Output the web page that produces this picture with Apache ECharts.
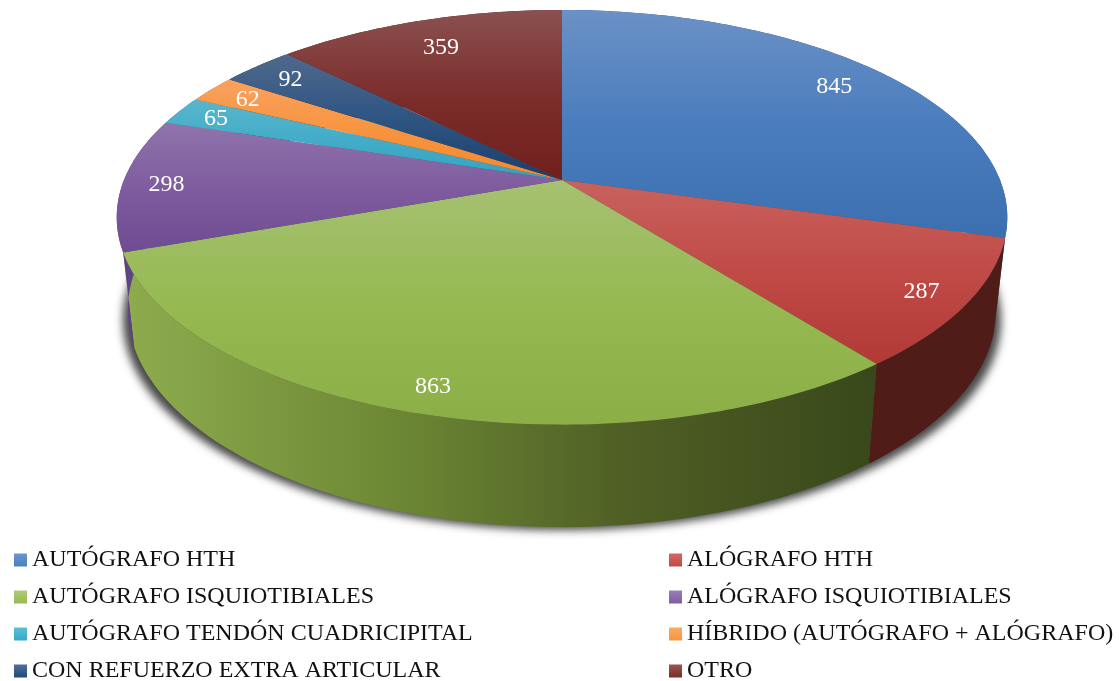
<!DOCTYPE html>
<html lang="es">
<head>
    <meta charset="UTF-8">
    <title>Pie 3D</title>
    <script src="https://cdn.jsdelivr.net/npm/echarts@6/dist/echarts.min.js"></script>
    <style>
        *{
            margin: 0;
            padding: 0;
        }
        #box{
            width: 1120px;
            height: 681px;
        }
    </style>
</head>
<body>
<div id="box"></div>
<script type="text/javascript">
    // data
    const categories = ['AUTÓGRAFO HTH', 'ALÓGRAFO HTH', 'AUTÓGRAFO ISQUIOTIBIALES', 'ALÓGRAFO ISQUIOTIBIALES',
        'AUTÓGRAFO TENDÓN CUADRICIPITAL', 'HÍBRIDO (AUTÓGRAFO + ALÓGRAFO)', 'CON REFUERZO EXTRA ARTICULAR', 'OTRO'];
    const values = [845, 287, 863, 298, 65, 62, 92, 359];

    // top face gradient, top to bottom
    const topColors = [
        ['#6b91c6', '#4a7dbd', '#3b6fb0'],
        ['#c9625e', '#c04a46', '#b13a36'],
        ['#a6c172', '#96b952', '#8bae47'],
        ['#9074ab', '#7f5c9f', '#6f4c92'],
        ['#58b6cd', '#44acc8', '#33a3c0'],
        ['#f9a25e', '#f79440', '#f5882c'],
        ['#50698c', '#2f5583', '#1b3f6d'],
        ['#8a5150', '#7c2e2c', '#701f1c']
    ];
    // side wall gradient, left to right
    const sideColors = [
        ['#2b5283', '#2b5283'],
        ['#501c18', '#4f1c18'],
        ['#8eac4e', '#6f8b36', '#4f5f25', '#39481a'],
        ['#5f4383', '#5f4383'],
        ['#27788d', '#27788d'],
        ['#a8621f', '#a8621f'],
        ['#14304f', '#14304f'],
        ['#4f1c18', '#4f1c18']
    ];
    const legendColors = [
        ['#6b95cf', '#4a7fc0'],
        ['#d56662', '#c24a46'],
        ['#afcb76', '#97ba52'],
        ['#9a7cb8', '#7d5ea0'],
        ['#5cc0d8', '#36a8c6'],
        ['#fdaa62', '#f7953f'],
        ['#4f6f98', '#23497a'],
        ['#9a5552', '#7a2c2a']
    ];
    const labelRadius = [0.85, 0.9, 0.9, 0.9, 0.9, 0.89, 0.88, 0.82];

    const total = values.reduce((a, b) => a + b, 0);
    let running = 0;
    const starts = values.map(v => {
        let s = running;
        running += v;
        return s;
    });

    // perspective of the disc
    const cx = 562, cy = 180, rx = 438, ry = 200.6, persp = 0.18;
    const wall = 91, shrink = 0.975;

    function project(turn, r) {
        let a = turn * Math.PI * 2;
        let c = Math.cos(a), d = 1 + persp * r * c;
        return [rx * r * Math.sin(a) / d, -ry * r * c / d, d];
    }
    function rim(from, to) {
        let pts = [];
        let n = Math.max(2, Math.ceil((to - from) * 360));
        for (let i = 0; i <= n; i++) {
            pts.push(project(from + (to - from) * i / n, 1));
        }
        return pts;
    }
    function vertical(stops) {
        return {
            type: 'linear', x: 0, y: 0, x2: 0, y2: 1,
            colorStops: stops.map((c, i) => ({offset: i / (stops.length - 1), color: c}))
        };
    }
    function horizontal(stops) {
        return {
            type: 'linear', x: 0, y: 0, x2: 1, y2: 0,
            colorStops: stops.map((c, i) => ({offset: i / (stops.length - 1), color: c}))
        };
    }

    let myChart = echarts.init(document.getElementById('box'));

    let series = categories.map((name, idx) => ({
        name: name,
        type: 'custom',
        coordinateSystem: 'none',
        silent: true,
        animation: false,
        itemStyle: {color: vertical(legendColors[idx])},
        data: [[starts[idx], values[idx]]],
        renderItem: function (params, api) {
            let from = api.value(0) / total, size = api.value(1) / total;
            let arc = rim(from, from + size);
            let topFace = [[cx, cy]].concat(arc.map(p => [cx + p[0], cy + p[1]]));
            let lower = arc.map(p => [cx + p[0] * shrink, cy + p[1] + wall * Math.pow(p[2], -0.6)]).reverse();
            let sideFace = arc.map(p => [cx + p[0], cy + p[1]]).concat(lower);
            let mid = project(from + size / 2, labelRadius[idx]);
            return {
                type: 'group',
                children: [{
                    type: 'polygon',
                    z2: 1,
                    shape: {points: sideFace},
                    style: {fill: horizontal(sideColors[idx])}
                }, {
                    type: 'polygon',
                    z2: 2,
                    shape: {points: topFace},
                    style: {fill: vertical(topColors[idx])}
                }, {
                    type: 'text',
                    z2: 3,
                    x: cx + mid[0],
                    y: cy + mid[1] + 1,
                    style: {
                        text: String(api.value(1)),
                        fill: '#fff',
                        font: '24px "Liberation Serif"',
                        align: 'center',
                        verticalAlign: 'middle'
                    }
                }]
            };
        }
    }));

    // soft shadow under the wall, the ellipse itself sits off the canvas
    series.unshift({
        name: 'sombra',
        type: 'custom',
        coordinateSystem: 'none',
        silent: true,
        animation: false,
        data: [[0]],
        renderItem: function () {
            return {
                type: 'ellipse',
                z2: 0,
                shape: {cx: cx - 2000, cy: 320, rx: 439, ry: 210},
                style: {fill: '#333', shadowBlur: 8, shadowOffsetX: 2000, shadowColor: 'rgba(40,40,40,0.85)'}
            };
        }
    });

    function columnLegend(left, names) {
        return {
            left: left,
            top: 548,
            height: 200,
            orient: 'vertical',
            icon: 'rect',
            itemWidth: 13,
            itemHeight: 13,
            itemGap: 13,
            selectedMode: false,
            padding: 0,
            data: names,
            textStyle: {
                color: '#111',
                fontFamily: 'Liberation Serif',
                fontSize: 24
            }
        };
    }

    let option = {
        backgroundColor: '#fff',
        animation: false,
        tooltip: {show: false},
        legend: [
            columnLegend(14, categories.filter((c, i) => i % 2 === 0)),
            columnLegend(669, categories.filter((c, i) => i % 2 === 1))
        ],
        series: series
    };
    myChart.setOption(option);
</script>
</body>
</html>
